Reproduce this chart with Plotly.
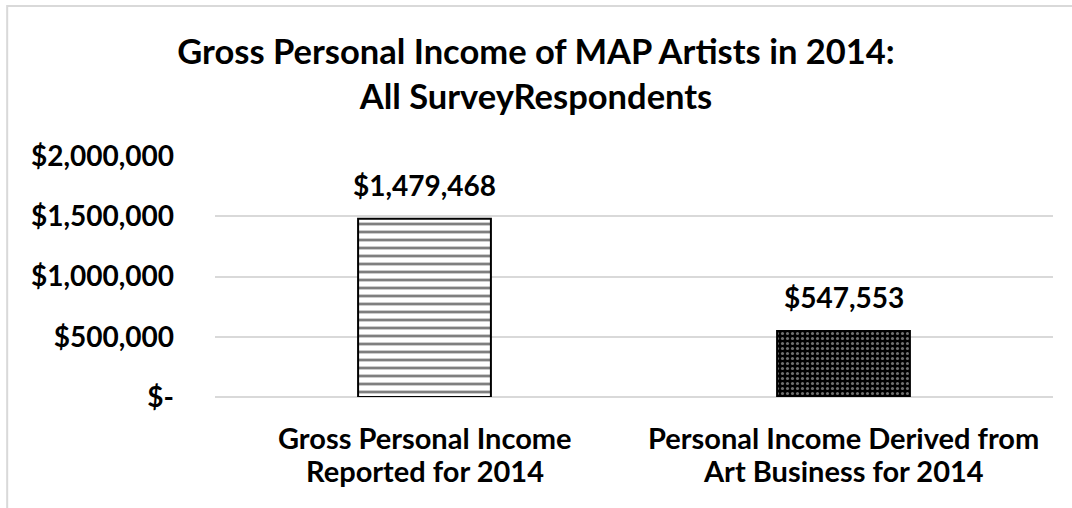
import plotly.graph_objects as go

### data
cat_line1 = ["Gross Personal Income", "Personal Income Derived from"]
cat_line2 = ["Reported for 2014", "Art Business for 2014"]
categories = [a + " " + b for a, b in zip(cat_line1, cat_line2)]
income_values = [1479468, 547553]
value_labels = ["$1,479,468", "$547,553"]
tick_values = [0, 500000, 1000000, 1500000, 2000000]
tick_labels = ["$-", "$500,000", "$1,000,000", "$1,500,000", "$2,000,000"]

FONT = "Lato"
GRID = "#d9d9d9"

fig = go.Figure()

# first bar: horizontal stripes, second bar: dense dotted fill
fig.add_trace(go.Bar(
    x=categories[:1], y=income_values[:1], width=0.317,
    marker=dict(color="white", line=dict(color="black", width=2),
                pattern=dict(shape="-", fgcolor="black", bgcolor="white",
                             size=8, solidity=0.35)),
    hoverinfo="skip"))
fig.add_trace(go.Bar(
    x=categories[1:], y=income_values[1:], width=0.317,
    marker=dict(color="black", line=dict(color="black", width=2),
                pattern=dict(shape=".", fgcolor="#e0e0e0", bgcolor="black",
                             size=5, solidity=0.3)),
    hoverinfo="skip"))

# value labels above the bars
for cat, val, lab in zip(categories, income_values, value_labels):
    fig.add_annotation(x=cat, y=val, text=lab, showarrow=False,
                       yanchor="bottom", yshift=15,
                       font=dict(family=FONT, size=28, color="black", weight="bold"))

# category labels, two lines each (tighter line spacing than plotly's default)
catfont = dict(family=FONT, size=29, color="black", weight="bold")
for cat, l1, l2 in zip(categories, cat_line1, cat_line2):
    fig.add_annotation(x=cat, y=0, yref="paper", text=l1, showarrow=False,
                       yanchor="middle", yshift=-40, font=catfont)
    fig.add_annotation(x=cat, y=0, yref="paper", text=l2, showarrow=False,
                       yanchor="middle", yshift=-73, font=catfont)

# light grey chart-area border (left and top edges visible)
fig.add_shape(type="rect", xref="paper", yref="paper",
              x0=-0.248, x1=1.2, y0=-1.0, y1=1.622,
              line=dict(color=GRID, width=2), layer="below")

fig.update_layout(
    width=1072, height=508,
    margin=dict(l=215, r=19, t=156, b=111),
    paper_bgcolor="white", plot_bgcolor="white",
    showlegend=False, barmode="overlay",
    title=dict(text="Gross Personal Income of MAP Artists in 2014:<br>All SurveyRespondents",
               x=0.5, xref="container", xanchor="center",
               y=1 - 64 / 508, yref="container", yanchor="top",
               font=dict(family=FONT, size=34.5, color="black", weight="bold")),
    font=dict(family=FONT, color="black"),
)
fig.update_yaxes(range=[0, 2000000], tickvals=tick_values, ticktext=tick_labels,
                 showgrid=True, gridcolor=GRID, gridwidth=2,
                 zeroline=True, zerolinecolor=GRID, zerolinewidth=2,
                 showline=False, ticks="", ticklabelstandoff=40,
                 tickfont=dict(family=FONT, size=28, color="black", weight="bold"))
fig.update_xaxes(showline=False, ticks="", showticklabels=False)

# drop the default page margin so the chart sits at the window's corner
fig.write_html("out.html", config={"displayModeBar": False},
               post_script="document.body.style.margin='0';")
